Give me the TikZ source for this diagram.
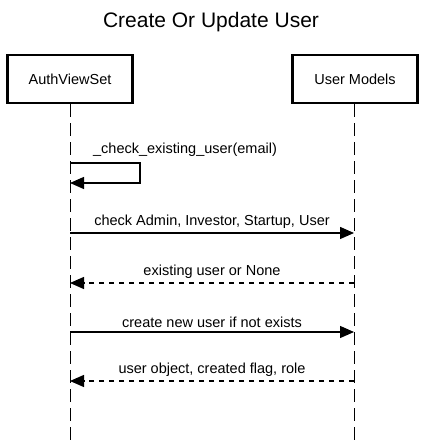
\documentclass[tikz,border=0pt]{standalone}
\usepackage{fontspec}
\setmainfont{Liberation Sans}
\usepackage{tikz}
\usetikzlibrary{arrows.meta,positioning}

\tikzset{
    actor/.style={draw, line width=2.6pt, minimum width=125pt, minimum height=48pt, font=\fontsize{14.5pt}{17pt}\selectfont},
    lifeline/.style={line width=1pt, dash pattern=on 13pt off 6pt},
    msg/.style={line width=1.4pt, -{Triangle[length=14pt, width=12pt]}},
    reply/.style={msg, dash pattern=on 5pt off 5pt},
    lbl/.style={font=\fontsize{14.5pt}{17pt}\selectfont, inner sep=4pt}
}

\begin{document}
\begin{tikzpicture}[x=1pt, y=1pt]
    \useasboundingbox (0,0) rectangle (423,442);

    % Title
    \node[font=\fontsize{21pt}{25pt}\selectfont] (title) at (211,420) {Create Or Update User};

    % Participants (y measured from the bottom edge)
    \node[actor] (auth) at (70,363) {AuthViewSet};
    \node[actor] (users) at (355,363) {User Models};

    % Lifelines down to the bottom edge
    \coordinate (authend) at (70,0);
    \coordinate (usersend) at (354,0);
    \draw[lifeline] (auth.south) -- (authend);
    \draw[lifeline] (users.south -| usersend) -- (usersend);

    % Self call
    \coordinate (selfa) at (70,279);
    \coordinate (selfb) at (70,259);
    \node[lbl] (selflbl) at (185,292) {\_check\_existing\_user(email)};
    \draw[msg] (selfa) -- ++(70,0) |- (selfb);

    % Messages
    \coordinate (m1a) at (70,209);
    \coordinate (m1u) at (354,209);
    \draw[msg] (m1a) -- node[lbl, above] {check Admin, Investor, Startup, User} (m1u);

    \coordinate (m2a) at (70,159);
    \coordinate (m2u) at (354,159);
    \draw[reply] (m2u) -- node[lbl, above] {existing user or None} (m2a);

    \coordinate (m3a) at (70,110);
    \coordinate (m3u) at (354,110);
    \draw[msg] (m3a) -- node[lbl, above] {create new user if not exists} (m3u);

    \coordinate (m4a) at (70,61);
    \coordinate (m4u) at (354,61);
    \draw[reply] (m4u) -- node[lbl, above] {user object, created flag, role} (m4a);

\end{tikzpicture}
\end{document}
